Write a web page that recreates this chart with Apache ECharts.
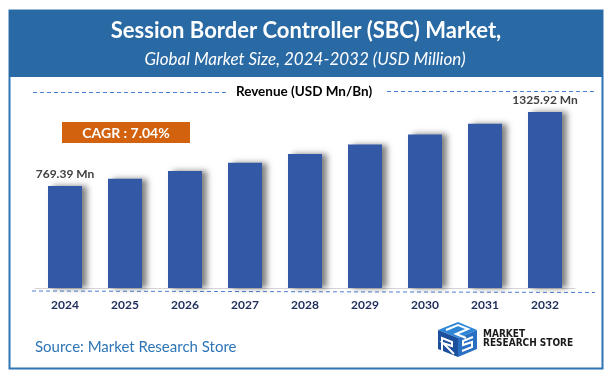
<!DOCTYPE html>
<html>
<head>
<meta charset="utf-8">
<script src="https://cdn.jsdelivr.net/npm/echarts@6/dist/echarts.min.js"></script>
<style>html,body{margin:0;padding:0;background:#fff}#c{width:615px;height:381px}</style>
</head>
<body>
<div id="c"></div>
<script>
const years = ['2024','2025','2026','2027','2028','2029','2030','2031','2032'];
const revenue = [769.39, 823.6, 881.5, 943.6, 1010.0, 1081.1, 1157.2, 1238.7, 1325.92];
const labelIndexes = [0, 8];
const titleText = 'Session Border Controller (SBC) Market,';
const subtitleText = 'Global Market Size, 2024-2032 (USD Million)';
const legendText = 'Revenue (USD Mn/Bn)';
const cagrText = 'CAGR : 7.04%';
const sourceText = 'Source: Market Research Store';

const FONT = 'Lato, "Open Sans", sans-serif';
const chart = echarts.init(document.getElementById('c'), null, {renderer: 'canvas'});

const data = revenue.map((v, i) => ({
  value: v,
  label: {show: labelIndexes.includes(i)}
}));

chart.setOption({
  backgroundColor: '#ffffff',
  animation: false,
  grid: {left: 35, right: 40, top: 89, bottom: 93},
  xAxis: {
    type: 'category',
    data: years,
    axisLine: {show: true, lineStyle: {color: '#d4d4d4', width: 1}},
    axisTick: {show: false},
    axisLabel: {margin: 11, color: '#1f2d5c', fontWeight: 'bold', fontSize: 12, fontFamily: FONT}
  },
  yAxis: {
    type: 'value', min: 0, max: 1500, show: false,
    splitLine: {show: false}
  },
  series: [{
    type: 'bar',
    data: data,
    barWidth: 34,
    itemStyle: {
      color: '#3358a6',
      shadowColor: 'rgba(0,0,0,0.5)',
      shadowBlur: 6,
      shadowOffsetX: 5,
      shadowOffsetY: 0
    },
    label: {
      position: 'top',
      distance: 6,
      color: '#404040',
      fontWeight: 'bold',
      fontSize: 12,
      fontFamily: FONT,
      formatter: p => p.value.toFixed(2) + ' Mn'
    }
  }],
  graphic: [
    {type: 'rect', z: -10, shape: {x: 9.5, y: 10.5, width: 593, height: 358}, style: {fill: '#ffffff', stroke: '#2e75b6', lineWidth: 2}},
    {type: 'rect', z: -9, shape: {x: 9, y: 10, width: 594, height: 67}, style: {fill: '#2a6aa4'}},
    {type: 'text', x: 306, y: 31, style: {text: titleText, fill: '#ffffff', font: 'bold 22px ' + FONT, textAlign: 'center', textVerticalAlign: 'middle'}},
    {type: 'text', x: 305, y: 60, style: {text: subtitleText, fill: '#ffffff', font: 'italic 17px ' + FONT, textAlign: 'center', textVerticalAlign: 'middle'}},
    {type: 'line', shape: {x1: 33, y1: 92.5, x2: 227, y2: 92.5}, style: {stroke: '#4a80d4', lineWidth: 1, lineDash: [4, 3]}},
    {type: 'line', shape: {x1: 387, y1: 91.5, x2: 595, y2: 91.5}, style: {stroke: '#4a80d4', lineWidth: 1, lineDash: [4, 3]}},
    {type: 'text', x: 304, y: 92, style: {text: legendText, fill: '#000000', font: 'bold 13.5px ' + FONT, textAlign: 'center', textVerticalAlign: 'middle'}},
    {type: 'rect', shape: {x: 62, y: 122, width: 128, height: 21}, style: {fill: '#d2620e'}},
    {type: 'text', x: 126, y: 133, style: {text: cagrText, fill: '#ffffff', font: 'bold 14px ' + FONT, textAlign: 'center', textVerticalAlign: 'middle'}},
    {type: 'line', shape: {x1: 32, y1: 291, x2: 595, y2: 292.5}, style: {stroke: '#4a80d4', lineWidth: 1, lineDash: [4, 3]}},
    {type: 'text', x: 35, y: 347, style: {text: sourceText, fill: '#2e75b6', font: '15px ' + FONT, textAlign: 'left', textVerticalAlign: 'middle'}},
    // logo
    {type: 'polygon', shape: {points: [[438,330],[458,322],[477,330],[458,338]]}, style: {fill: '#2f86d6'}},
    {type: 'polygon', shape: {points: [[438,330],[458,338],[458,357],[438,349]]}, style: {fill: '#1c4f9c'}},
    {type: 'polygon', shape: {points: [[458,338],[477,330],[477,349],[458,357]]}, style: {fill: '#2a70c2'}},
    {type: 'polyline', shape: {points: [[446,330],[458,325],[468,329],[456,334],[466,338]]}, style: {stroke: '#ffffff', lineWidth: 2, fill: null}},
    {type: 'polyline', shape: {points: [[442,352],[442,338],[452,342],[452,346],[443,343],[454,354]]}, style: {stroke: '#ffffff', lineWidth: 2, fill: null}},
    {type: 'polyline', shape: {points: [[473,337],[463,341],[463,345],[472,342],[472,347],[462,351]]}, style: {stroke: '#ffffff', lineWidth: 2, fill: null}},
    {type: 'text', x: 483, y: 334, style: {text: 'MARKET', fill: '#1a1a1a', font: 'bold 10px "DejaVu Sans Condensed", sans-serif', textAlign: 'left', textVerticalAlign: 'middle'}},
    {type: 'text', x: 483, y: 343, style: {text: 'RESEARCH STORE', fill: '#1a1a1a', font: 'bold 10px "DejaVu Sans Condensed", sans-serif', textAlign: 'left', textVerticalAlign: 'middle'}}
  ]
});
</script>
</body>
</html>
